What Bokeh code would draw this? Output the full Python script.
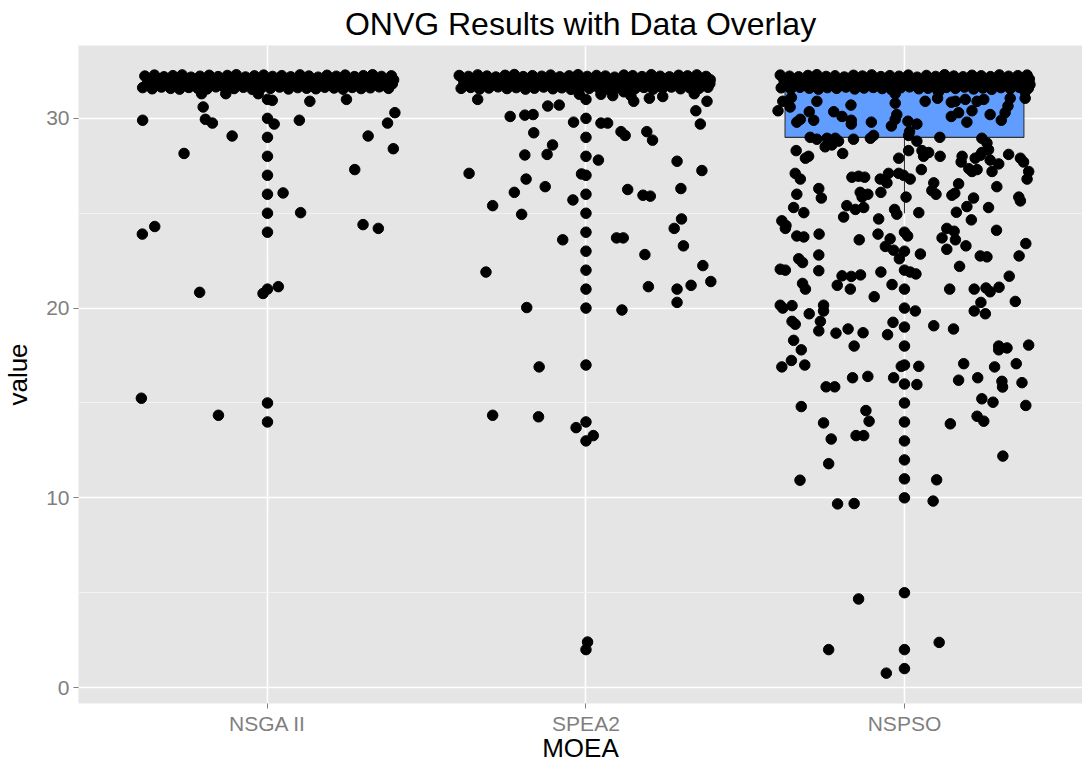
from bokeh.plotting import figure
from bokeh.models import FixedTicker
from bokeh.embed import file_html
from bokeh.resources import INLINE

# ---------------- data ----------------
categories = ["NSGA II", "SPEA2", "NSPSO"]
box_colors = ["#F8766D", "#00BA38", "#619CFF"]
q1 = [32, 32, 29]
median = [32, 32, 32]
q3 = [32, 32, 32]
lower_whisker = [32, 32, 25]
upper_whisker = [32, 32, 32]

nsga_outliers = [31, 30, 29, 28, 27, 26, 25, 24, 21, 15, 14]
spea_outliers = [31, 30, 29, 28, 27, 26, 25, 24, 23, 22, 21, 20, 17, 14, 13, 2]
nspso_outliers = [24, 23, 22, 21, 20, 19, 18, 17, 16, 15, 14, 13, 12, 11, 10, 5, 2, 1]

# jittered observations: (horizontal jitter in category units, jittered value)
nsga_points = [(-0.207, 31.30), (-0.131, 31.30), (-0.029, 31.30), (0.015, 30.95), (0.133, 30.90),
               (0.248, 31.00), (-0.202, 30.60), (-0.392, 29.90), (-0.195, 29.95), (-0.173, 29.75),
               (0.021, 29.70), (0.100, 29.90), (0.400, 30.30), (0.377, 29.75), (-0.111, 29.07),
               (0.316, 29.07), (0.395, 28.40), (-0.262, 28.15), (0.274, 27.30), (0.049, 26.07),
               (0.104, 25.03), (0.300, 24.40), (0.348, 24.20), (-0.393, 23.90), (-0.354, 24.30),
               (-0.213, 20.83), (-0.014, 20.77), (0.034, 21.13), (-0.396, 15.25), (-0.154, 14.35)]

spea_points = [(-0.340, 31.00), (-0.021, 31.27), (0.047, 31.27), (0.084, 31.20), (0.119, 31.40),
               (0.141, 31.20), (0.150, 30.90), (0.199, 31.06), (0.241, 31.15), (0.340, 31.30),
               (0.380, 30.90), (-0.120, 30.65), (-0.084, 30.70), (-0.238, 30.10), (-0.192, 30.17),
               (-0.166, 30.20), (-0.039, 29.80), (0.047, 29.75), (0.068, 29.75), (0.345, 30.40),
               (0.359, 29.70), (-0.164, 29.24), (0.110, 29.30), (0.123, 29.10), (0.191, 29.30),
               (0.209, 28.85), (-0.105, 28.60), (-0.192, 28.07), (-0.122, 28.10), (0.039, 27.80),
               (0.286, 27.74), (-0.367, 27.10), (-0.188, 26.80), (-0.014, 27.07), (0.364, 27.25),
               (-0.128, 26.40), (-0.225, 26.10), (0.131, 26.25), (0.298, 26.30), (0.179, 25.95),
               (0.202, 25.90), (-0.041, 25.70), (-0.293, 25.40), (-0.202, 24.94), (0.300, 24.70),
               (0.277, 24.20), (-0.073, 23.60), (0.096, 23.70), (0.117, 23.70), (0.306, 23.28),
               (0.185, 22.82), (-0.314, 21.90), (0.367, 22.24), (0.196, 21.13), (0.286, 21.00),
               (0.330, 21.20), (0.392, 21.40), (0.286, 20.30), (-0.186, 20.03), (0.113, 19.90),
               (-0.147, 16.90), (-0.293, 14.35), (-0.149, 14.27), (-0.031, 13.70), (0.023, 13.28),
               (0.005, 2.40)]

nspso_points = [(-0.382, 30.9), (-0.397, 30.4), (-0.355, 31.1), (-0.359, 30.6), (-0.338, 29.8),
                (-0.327, 29.95), (-0.299, 30.35), (-0.285, 29.9), (-0.275, 30.9), (-0.222, 30.35),
                (-0.196, 30.1), (-0.168, 30.7), (-0.167, 29.9), (-0.167, 29.7), (-0.104, 29.8),
                (-0.029, 30.8), (-0.029, 31.3), (-0.024, 30.2), (-0.029, 29.95), (-0.041, 29.6),
                (0.011, 29.85), (0.039, 29.7), (0.016, 29.3), (0.013, 29.1), (0.065, 30.9),
                (0.104, 31.06), (0.107, 31.4), (0.147, 30.85), (0.160, 30.9), (0.191, 31.0),
                (0.147, 30.1), (0.170, 30.3), (0.196, 29.8), (0.212, 30.4), (0.228, 30.9),
                (0.249, 31.0), (0.269, 30.2), (0.304, 29.9), (0.316, 30.3), (0.325, 30.65),
                (0.332, 31.06), (0.379, 31.06), (0.379, 31.4),
                (-0.296, 29.0), (-0.275, 28.9), (-0.243, 28.95), (-0.217, 28.95), (-0.249, 28.5),
                (-0.228, 28.6), (-0.207, 28.8), (-0.194, 28.15), (-0.160, 28.9), (-0.107, 28.95),
                (-0.097, 29.1), (-0.340, 28.3), (-0.311, 27.9), (-0.301, 28.0), (-0.343, 27.1),
                (-0.327, 26.8), (-0.269, 26.3), (-0.165, 26.9), (-0.144, 26.95), (-0.125, 26.9),
                (-0.076, 26.8), (-0.050, 27.1), (-0.055, 26.6), (-0.018, 27.9), (-0.018, 27.1),
                (-0.003, 27.0), (0.018, 26.8), (0.013, 28.3), (0.039, 28.8), (0.055, 28.3),
                (0.076, 28.2), (0.060, 28.0), (0.053, 27.3), (0.111, 29.0), (0.112, 28.0),
                (0.092, 26.6), (0.181, 28.0), (0.178, 27.7), (0.222, 27.9), (0.238, 28.05),
                (0.243, 28.2), (0.243, 28.95), (0.259, 28.7), (0.202, 27.35), (0.212, 27.2),
                (0.228, 27.3), (0.269, 27.8), (0.296, 27.6), (0.275, 27.2), (0.264, 28.35),
                (0.327, 28.1), (0.364, 27.9), (0.374, 27.7), (0.390, 27.2), (0.385, 26.8),
                (0.170, 26.55), (0.290, 26.4), (0.359, 25.85),
                (-0.338, 26.0), (-0.261, 25.8), (-0.139, 26.1), (-0.133, 25.85), (-0.115, 26.0),
                (-0.074, 26.1), (0.005, 25.85), (0.086, 26.2), (0.099, 26.0), (0.149, 25.95),
                (0.158, 26.05), (0.217, 25.8), (0.364, 25.65), (-0.348, 25.3), (-0.316, 25.03),
                (-0.385, 24.6), (-0.372, 24.35), (-0.374, 24.2), (-0.338, 23.8), (-0.316, 23.75),
                (-0.268, 23.9), (-0.191, 24.8), (-0.181, 25.4), (-0.154, 25.2), (-0.128, 25.3),
                (-0.142, 23.6), (-0.081, 24.7), (-0.083, 23.9), (-0.031, 25.2), (-0.024, 24.95),
                (-0.045, 23.65), (-0.060, 23.25), (-0.034, 23.05), (-0.016, 22.6), (0.010, 23.8),
                (0.045, 25.03), (0.050, 22.85), (0.018, 21.9), (0.036, 21.8), (0.118, 23.7),
                (0.133, 24.2), (0.156, 24.05), (0.160, 23.6), (0.133, 23.1), (0.163, 25.05),
                (0.196, 25.35), (0.210, 24.65), (0.193, 23.28), (0.264, 25.3), (0.289, 24.1),
                (0.238, 22.75), (0.259, 22.7), (0.173, 22.2), (0.329, 21.68), (0.360, 22.75),
                (0.381, 23.4), (-0.390, 22.05), (-0.374, 22.0), (-0.332, 22.6), (-0.320, 22.4),
                (-0.269, 22.8), (-0.269, 21.97), (-0.196, 21.7), (-0.167, 21.67), (-0.138, 21.75),
                (-0.074, 21.9), (-0.211, 21.2), (-0.170, 21.0), (-0.320, 21.3), (-0.311, 21.0),
                (-0.039, 21.24), (0.142, 21.0), (0.219, 21.0), (0.256, 21.06), (0.269, 20.86),
                (0.297, 21.1), (0.348, 20.35), (0.240, 20.3), (-0.095, 20.6), (-0.390, 20.15),
                (-0.382, 20.0), (-0.353, 20.13), (-0.254, 20.15), (-0.254, 19.85), (-0.299, 19.7),
                (0.034, 19.85), (0.219, 19.85), (0.254, 19.7), (-0.353, 19.3), (-0.343, 19.15),
                (-0.264, 19.3), (-0.177, 18.9), (-0.036, 19.25), (0.092, 19.07), (0.154, 18.9),
                (-0.269, 18.8), (-0.215, 18.68), (-0.130, 18.7), (-0.053, 18.6), (-0.348, 18.3),
                (-0.324, 17.8), (-0.158, 18.0), (0.296, 18.0), (0.296, 17.8), (0.322, 17.9),
                (0.390, 18.05), (-0.385, 16.9), (-0.355, 17.24), (-0.313, 17.0), (-0.163, 16.33),
                (-0.115, 16.4), (-0.246, 15.85), (-0.219, 15.85), (-0.034, 16.33), (-0.010, 16.93),
                (0.045, 16.93), (0.039, 15.97), (0.186, 17.07), (0.170, 16.2), (0.230, 16.33),
                (0.283, 16.9), (0.351, 17.07), (0.306, 16.14), (0.308, 15.84), (0.369, 16.07),
                (0.243, 15.22), (0.278, 15.04), (0.381, 14.87), (-0.324, 14.81), (-0.121, 14.6),
                (-0.111, 14.04), (-0.254, 13.95), (0.144, 13.9), (0.228, 14.3), (0.249, 14.04),
                (-0.230, 13.1), (-0.152, 13.28), (-0.128, 13.28), (0.309, 12.2),
                (-0.238, 11.8), (-0.328, 10.93), (0.101, 10.95), (-0.210, 9.68), (-0.158, 9.7),
                (0.090, 9.83), (-0.144, 4.67), (-0.238, 2.0), (0.109, 2.38), (-0.057, 0.76)]

# dense band of observations at value 32 (four visual rows per group)
nsga_band_x = [-0.385, -0.355, -0.325, -0.297, -0.268, -0.240, -0.212, -0.183, -0.155, -0.126, -0.098, -0.069, -0.041, -0.012,
               0.016, 0.045, 0.073, 0.102, 0.130, 0.159, 0.187, 0.216, 0.244, 0.273, 0.301, 0.330, 0.358, 0.389,
               -0.372, -0.340, -0.311, -0.282, -0.254, -0.226, -0.197, -0.169, -0.140, -0.112, -0.083, -0.055, -0.026, 0.002,
               0.031, 0.059, 0.088, 0.116, 0.145, 0.173, 0.202, 0.230, 0.259, 0.287, 0.316, 0.344, 0.373, 0.396,
               -0.378, -0.349, -0.318, -0.290, -0.261, -0.233, -0.205, -0.176, -0.148, -0.119, -0.091, -0.062, -0.034, -0.005,
               0.023, 0.052, 0.080, 0.109, 0.137, 0.166, 0.194, 0.223, 0.251, 0.280, 0.308, 0.337, 0.365, 0.392,
               -0.392, -0.362, -0.333, -0.304, -0.276, -0.247, -0.219, -0.190, -0.162, -0.133, -0.105, -0.076, -0.048, -0.019,
               0.009, 0.038, 0.066, 0.095, 0.123, 0.152, 0.180, 0.209, 0.237, 0.266, 0.294, 0.323, 0.351, 0.380]
nsga_band_y = [32.23, 32.28, 32.19, 32.25, 32.29, 32.17, 32.22, 32.27, 32.20, 32.26, 32.30, 32.18, 32.24, 32.28,
               32.21, 32.25, 32.19, 32.29, 32.23, 32.17, 32.27, 32.22, 32.28, 32.20, 32.25, 32.30, 32.21, 32.24,
               32.01, 32.07, 31.98, 32.04, 32.09, 31.96, 32.03, 31.99, 32.08, 31.97, 32.05, 32.01, 32.09, 31.98,
               32.06, 31.95, 32.02, 32.08, 31.99, 32.05, 31.97, 32.09, 32.01, 32.04, 31.96, 32.07, 32.00, 32.03,
               31.80, 31.84, 31.77, 31.82, 31.86, 31.78, 31.81, 31.85, 31.76, 31.83, 31.79, 31.87, 31.80, 31.84,
               31.78, 31.82, 31.86, 31.77, 31.81, 31.85, 31.79, 31.83, 31.76, 31.84, 31.80, 31.86, 31.78, 31.82,
               31.62, 31.56, 31.65, 31.58, 31.54, 31.63, 31.59, 31.55, 31.66, 31.60, 31.57, 31.64, 31.53, 31.61,
               31.58, 31.65, 31.55, 31.62, 31.59, 31.56, 31.64, 31.60, 31.54, 31.63, 31.57, 31.61, 31.66, 31.58]

spea_band_x = [-0.398, -0.369, -0.340, -0.311, -0.283, -0.254, -0.225, -0.197, -0.168, -0.139, -0.111, -0.082, -0.053, -0.025,
               0.004, 0.033, 0.061, 0.090, 0.119, 0.147, 0.176, 0.205, 0.233, 0.262, 0.291, 0.319, 0.348, 0.377,
               -0.385, -0.356, -0.327, -0.298, -0.270, -0.241, -0.212, -0.184, -0.155, -0.126, -0.097, -0.069, -0.040, -0.011,
               0.017, 0.046, 0.075, 0.104, 0.132, 0.161, 0.190, 0.218, 0.247, 0.276, 0.304, 0.333, 0.362, 0.390,
               -0.383, -0.354, -0.325, -0.297, -0.268, -0.240, -0.211, -0.182, -0.154, -0.125, -0.097, -0.068, -0.039, -0.011,
               0.018, 0.047, 0.075, 0.104, 0.132, 0.161, 0.190, 0.218, 0.247, 0.275, 0.304, 0.333, 0.361, 0.389,
               -0.392, -0.362, -0.334, -0.305, -0.276, -0.248, -0.219, -0.190, -0.162, -0.133, -0.104, -0.076, -0.047, -0.018,
               0.010, 0.039, 0.068, 0.096, 0.125, 0.154, 0.182, 0.211, 0.240, 0.268, 0.297, 0.326, 0.355, 0.383]
spea_band_y = [32.26, 32.21, 32.29, 32.23, 32.18, 32.27, 32.31, 32.20, 32.25, 32.22, 32.28, 32.19, 32.24, 32.30,
               32.21, 32.26, 32.23, 32.17, 32.28, 32.25, 32.20, 32.30, 32.22, 32.19, 32.27, 32.24, 32.29, 32.21,
               32.05, 31.98, 32.09, 32.01, 32.06, 31.95, 32.03, 32.08, 31.99, 32.04, 31.96, 32.07, 32.01, 32.10,
               31.97, 32.03, 32.06, 31.98, 32.09, 32.00, 32.05, 31.96, 32.07, 32.02, 31.99, 32.08, 32.01, 32.04,
               31.83, 31.78, 31.86, 31.80, 31.84, 31.76, 31.82, 31.87, 31.79, 31.81, 31.85, 31.77, 31.83, 31.80,
               31.86, 31.78, 31.82, 31.84, 31.76, 31.81, 31.87, 31.79, 31.83, 31.80, 31.85, 31.77, 31.82, 31.84,
               31.58, 31.63, 31.55, 31.60, 31.66, 31.57, 31.62, 31.54, 31.59, 31.65, 31.56, 31.61, 31.53, 31.64,
               31.58, 31.62, 31.55, 31.60, 31.66, 31.57, 31.63, 31.54, 31.59, 31.65, 31.56, 31.61, 31.58, 31.64]

nspso_band_x = [-0.390, -0.361, -0.332, -0.303, -0.275, -0.246, -0.218, -0.189, -0.160, -0.132, -0.103, -0.074, -0.046, -0.017,
                0.012, 0.040, 0.069, 0.098, 0.126, 0.155, 0.184, 0.212, 0.241, 0.270, 0.298, 0.327, 0.356, 0.385,
                -0.378, -0.349, -0.320, -0.291, -0.262, -0.234, -0.205, -0.176, -0.148, -0.119, -0.090, -0.061, -0.033, -0.004,
                0.025, 0.054, 0.082, 0.111, 0.140, 0.168, 0.197, 0.226, 0.255, 0.283, 0.312, 0.341, 0.369, 0.392,
                -0.375, -0.346, -0.317, -0.289, -0.260, -0.231, -0.203, -0.174, -0.145, -0.117, -0.088, -0.059, -0.031, -0.002,
                0.027, 0.055, 0.084, 0.113, 0.141, 0.170, 0.199, 0.227, 0.256, 0.285, 0.313, 0.342, 0.370, 0.394,
                -0.387, -0.357, -0.328, -0.299, -0.270, -0.242, -0.213, -0.184, -0.156, -0.127, -0.098, -0.070, -0.041, -0.012,
                0.016, 0.045, 0.074, 0.102, 0.131, 0.160, 0.188, 0.217, 0.246, 0.274, 0.303, 0.332, 0.360, 0.389]
nspso_band_y = [32.28, 32.22, 32.19, 32.26, 32.30, 32.21, 32.24, 32.18, 32.27, 32.23, 32.29, 32.20, 32.25, 32.22,
                32.28, 32.17, 32.26, 32.21, 32.30, 32.23, 32.19, 32.27, 32.24, 32.20, 32.29, 32.22, 32.25, 32.28,
                31.99, 32.06, 32.02, 31.96, 32.08, 32.04, 31.98, 32.10, 32.01, 32.05, 31.97, 32.07, 32.03, 31.95,
                32.09, 32.00, 32.04, 31.98, 32.06, 32.02, 32.08, 31.97, 32.05, 32.00, 32.09, 31.96, 32.03, 32.07,
                31.81, 31.77, 31.85, 31.79, 31.83, 31.87, 31.78, 31.82, 31.76, 31.84, 31.80, 31.86, 31.79, 31.83,
                31.77, 31.81, 31.85, 31.78, 31.82, 31.86, 31.80, 31.76, 31.84, 31.79, 31.83, 31.87, 31.81, 31.78,
                31.61, 31.56, 31.64, 31.59, 31.54, 31.62, 31.58, 31.65, 31.55, 31.60, 31.63, 31.57, 31.52, 31.61,
                31.66, 31.56, 31.59, 31.54, 31.63, 31.58, 31.65, 31.55, 31.60, 31.53, 31.62, 31.57, 31.64, 31.59]

y_ticks = [0, 10, 20, 30]
y_minor = [5, 15, 25]

# ---------------- figure ----------------
BOX_HALF = 0.375
PT = 10.5

p = figure(frame_width=1004, frame_height=658, x_range=(0.4066, 3.559), y_range=(-0.84, 33.84),
           output_backend="svg", toolbar_location=None,
           min_border_left=69, min_border_right=0, min_border_top=37, min_border_bottom=0,
           title="ONVG Results with Data Overlay")
p.title.align = "center"
p.title.text_font = "Liberation Sans"
p.title.text_font_size = "32px"
p.title.text_font_style = "normal"
p.title.text_color = "black"
p.title.standoff = 1
p.title.padding = 3
p.title.offset = -6

p.background_fill_color = "#E5E5E5"
p.border_fill_color = "white"
p.outline_line_color = None

xt = FixedTicker(ticks=[1, 2, 3])
yt = FixedTicker(ticks=y_ticks, minor_ticks=y_minor)
p.xaxis.ticker = xt
p.yaxis.ticker = yt
p.xgrid.ticker = xt
p.ygrid.ticker = yt
p.xaxis.major_label_overrides = {i + 1: c for i, c in enumerate(categories)}

p.xgrid.grid_line_color = "white"
p.xgrid.grid_line_width = 1.6
p.ygrid.grid_line_color = "white"
p.ygrid.grid_line_width = 1.6
p.ygrid.minor_grid_line_color = "#F2F2F2"
p.ygrid.minor_grid_line_width = 1

for ax in (p.xaxis[0], p.yaxis[0]):
    ax.axis_line_color = None
    ax.major_tick_line_color = "#7F7F7F"
    ax.major_tick_line_width = 1
    ax.major_tick_in = 0
    ax.major_tick_out = 5
    ax.minor_tick_line_color = None
    ax.major_label_text_color = "#7F7F7F"
    ax.major_label_text_font = "Liberation Sans"
    ax.major_label_text_font_size = "21px"
    ax.major_label_text_line_height = 1.0
    ax.axis_label_text_font = "Liberation Sans"
    ax.axis_label_text_font_size = "26px"
    ax.axis_label_text_font_style = "normal"
    ax.axis_label_text_color = "black"
    ax.axis_label_text_line_height = 1.0

p.xaxis.axis_label = "MOEA"
p.yaxis.axis_label = "value"
p.xaxis.major_label_standoff = 3
p.xaxis.axis_label_standoff = -5
p.yaxis.major_label_standoff = 4
p.yaxis.axis_label_standoff = 10

# boxplots
pos = [1, 2, 3]
p.quad(left=[c - BOX_HALF for c in pos], right=[c + BOX_HALF for c in pos],
       bottom=q1, top=q3, fill_color=box_colors, line_color="#333333", line_width=1.1)
p.segment(x0=[c - BOX_HALF for c in pos], x1=[c + BOX_HALF for c in pos],
          y0=median, y1=median, line_color="#333333", line_width=2)
p.segment(x0=pos, x1=pos, y0=q1, y1=lower_whisker, line_color="#333333", line_width=1.1)
p.segment(x0=pos, x1=pos, y0=q3, y1=upper_whisker, line_color="#333333", line_width=1.1)

# outliers (drawn at the group centre)
ox, oy = [], []
for c, vals in zip(pos, [nsga_outliers, spea_outliers, nspso_outliers]):
    ox += [c] * len(vals)
    oy += vals
p.scatter(ox, oy, size=PT, color="black")

# jittered data overlay
jx, jy = [], []
for c, pts in zip(pos, [nsga_points, spea_points, nspso_points]):
    jx += [c + d for d, _ in pts]
    jy += [v for _, v in pts]
for c, bx, by in zip(pos, [nsga_band_x, spea_band_x, nspso_band_x], [nsga_band_y, spea_band_y, nspso_band_y]):
    jx += [c + d for d in bx]
    jy += by
p.scatter(jx, jy, size=PT, color="black")

open("out.html", "w").write(file_html(p, INLINE))
